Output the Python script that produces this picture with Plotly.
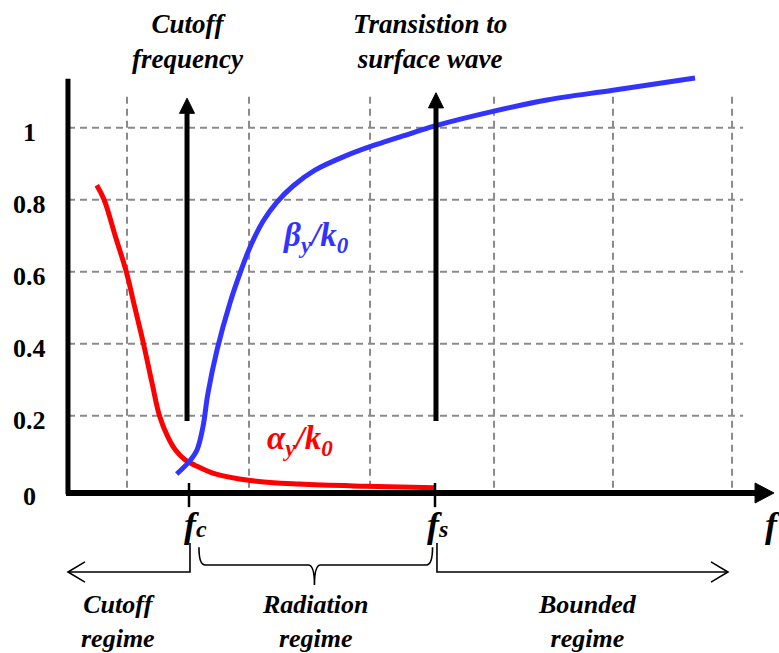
import plotly.graph_objects as go

# Normalised frequency axis: the y axis sits at f = 0, cutoff at fc, surface-wave onset at fs
fc = 1.0
fs = 3.0

# alpha_y / k0 (attenuation), read along frequency
alpha_f = [0.25, 0.31, 0.40, 0.49, 0.56, 0.63, 0.70, 0.76, 0.83, 0.89, 0.97, 1.05, 1.20, 1.50, 1.90, 2.44, 3.00]
alpha_v = [0.84, 0.80, 0.70, 0.60, 0.50, 0.40, 0.29, 0.20, 0.14, 0.105, 0.077, 0.062, 0.040, 0.020, 0.010, 0.004, 0.0]

# beta_y / k0 (phase constant)
beta_f = [0.90, 1.00, 1.065, 1.114, 1.154, 1.228, 1.333, 1.415, 1.496, 1.602, 1.715, 1.846, 2.024, 2.268,
          2.512, 2.756, 3.00, 3.48, 3.91, 4.447, 5.114]
beta_v = [0.038, 0.072, 0.105, 0.17, 0.262, 0.383, 0.513, 0.596, 0.668, 0.74, 0.793, 0.838, 0.882, 0.921,
          0.952, 0.979, 1.005, 1.046, 1.077, 1.104, 1.138]

y_ticks = [0, 0.2, 0.4, 0.6, 0.8, 1.0]
y_tick_text = ["0", "0.2", "0.4", "0.6", "0.8", "1"]
x_grid = [0.496, 1.488, 2.472, 3.48, 4.447, 5.415]

SERIF = "Liberation Serif"
BLACK = "#000000"
GRID = "#8a8a8a"
NOLIG = "\u200c"  # keeps "ff" from merging into a ligature

fig = go.Figure()
fig.add_trace(go.Scatter(x=alpha_f, y=alpha_v, mode="lines",
                         line=dict(color="#ff0000", width=5, shape="spline", smoothing=1.0),
                         hoverinfo="skip", showlegend=False))
fig.add_trace(go.Scatter(x=beta_f, y=beta_v, mode="lines",
                         line=dict(color="#3333ff", width=5, shape="spline", smoothing=1.0),
                         hoverinfo="skip", showlegend=False))

shapes = []
# dashed grid
for gx in x_grid:
    shapes.append(dict(type="line", x0=gx, x1=gx, y0=0, y1=1.096,
                       line=dict(color=GRID, width=2, dash="7px,5px"), layer="below"))
for gy in y_ticks[1:]:
    shapes.append(dict(type="line", x0=0.016, x1=5.504, y0=gy, y1=gy,
                       line=dict(color=GRID, width=2, dash="7px,5px"), layer="below"))

# axes
shapes.append(dict(type="line", x0=0.016, x1=0.016, y0=-0.018, y1=1.136,
                   line=dict(color=BLACK, width=5)))
shapes.append(dict(type="line", x0=0.0, x1=5.62, y0=-0.0147, y1=-0.0147,
                   line=dict(color=BLACK, width=6)))
shapes.append(dict(type="path", path="M 5.602 0.013 L 5.756 -0.0147 L 5.602 -0.0425 Z",
                   fillcolor=BLACK, line=dict(color=BLACK, width=1)))

# ticks at fc and fs
for fx in (fc, fs):
    shapes.append(dict(type="line", x0=fx, x1=fx, y0=0.013, y1=-0.054,
                       line=dict(color=BLACK, width=2.5)))

# vertical arrows marking fc and fs
for fx, top in ((fc - 0.016, 1.082), (fs + 0.008, 1.097)):
    base = top - 0.042
    shapes.append(dict(type="line", x0=fx, x1=fx, y0=0.185, y1=base + 0.005,
                       line=dict(color=BLACK, width=5)))
    shapes.append(dict(type="path",
                       path=f"M {fx - 0.061} {base} L {fx} {top} L {fx + 0.061} {base} Z",
                       fillcolor=BLACK, line=dict(color=BLACK, width=1)))

# regime markers under the axis
y_top, y_bar, y_cusp = -0.1536, -0.2342, -0.2703
thin = dict(color=BLACK, width=1.6)
shapes.append(dict(type="path",
                   path=f"M {fc + 0.008} {y_top} L {fc + 0.008} {y_bar} L 0.016 {y_bar}",
                   line=thin))
shapes.append(dict(type="path",
                   path=f"M 0.154 {y_bar + 0.028} L 0.016 {y_bar} L 0.154 {y_bar - 0.028}",
                   line=thin))
shapes.append(dict(type="path",
                   path=f"M {fs + 0.016} {y_top} L {fs + 0.016} {y_bar} L 5.382 {y_bar}",
                   line=thin))
shapes.append(dict(type="path",
                   path=f"M 5.244 {y_bar + 0.028} L 5.382 {y_bar} L 5.244 {y_bar - 0.028}",
                   line=thin))
yb = -0.2147
mid = (fc + fs) / 2 + 0.02
shapes.append(dict(type="path",
                   path=(f"M 1.081 {y_top - 0.012} Q 1.081 {yb} 1.13 {yb} "
                         f"L {mid - 0.05} {yb} Q {mid} {yb} {mid} {y_cusp} "
                         f"Q {mid} {yb} {mid + 0.05} {yb} "
                         f"L 2.93 {yb} Q 2.98 {yb} 2.98 {y_top - 0.012}"),
                   line=thin))

ann = []
def txt(x, y, text, size=26, color=BLACK, italic=True, bold=True, **kw):
    ann.append(dict(x=x, y=y, xref="x", yref="y", text=text, showarrow=False,
                    font=dict(family=SERIF, size=size, color=color,
                              weight="bold" if bold else "normal",
                              style="italic" if italic else "normal"), **kw))

for v, t in zip(y_ticks, y_tick_text):
    txt(-0.293, v, t, italic=False, yshift=-9 if v == 0 else -5)

txt(0.99, 1.239, f"Cutof{NOLIG}f<br>frequency", size=27)
txt(2.96, 1.239, "Transistion to<br>surface wave", size=27)
txt(2.03, 0.696, "β<sub>y</sub>/k<sub>0</sub>", size=33, color="#3333ff")
txt(1.90, 0.1325, "α<sub>y</sub>/k<sub>0</sub>", size=33, color="#ff0000")

txt(fc + 0.049, -0.104, "f<span style='font-size:24px'>c</span>", size=36)
txt(fs + 0.024, -0.104, "f<span style='font-size:24px'>s</span>", size=36)
txt(5.667, -0.104, "f", size=36, xanchor="left")

txt(0.423, -0.371, f"Cutof{NOLIG}f<br>regime")
txt(2.024, -0.371, "Radiation<br>regime")
txt(4.236, -0.371, "Bounded<br>regime")

fig.update_layout(
    width=779, height=653, autosize=False,
    margin=dict(l=0, r=0, t=0, b=0, pad=0),
    paper_bgcolor="white", plot_bgcolor="white",
    xaxis=dict(range=[-66 / 123, 713 / 123], visible=False, fixedrange=True),
    yaxis=dict(range=[(487.7 - 653) / 360, 487.7 / 360], visible=False, fixedrange=True),
    shapes=shapes, annotations=ann, showlegend=False,
)

fig.write_html("out.html")
